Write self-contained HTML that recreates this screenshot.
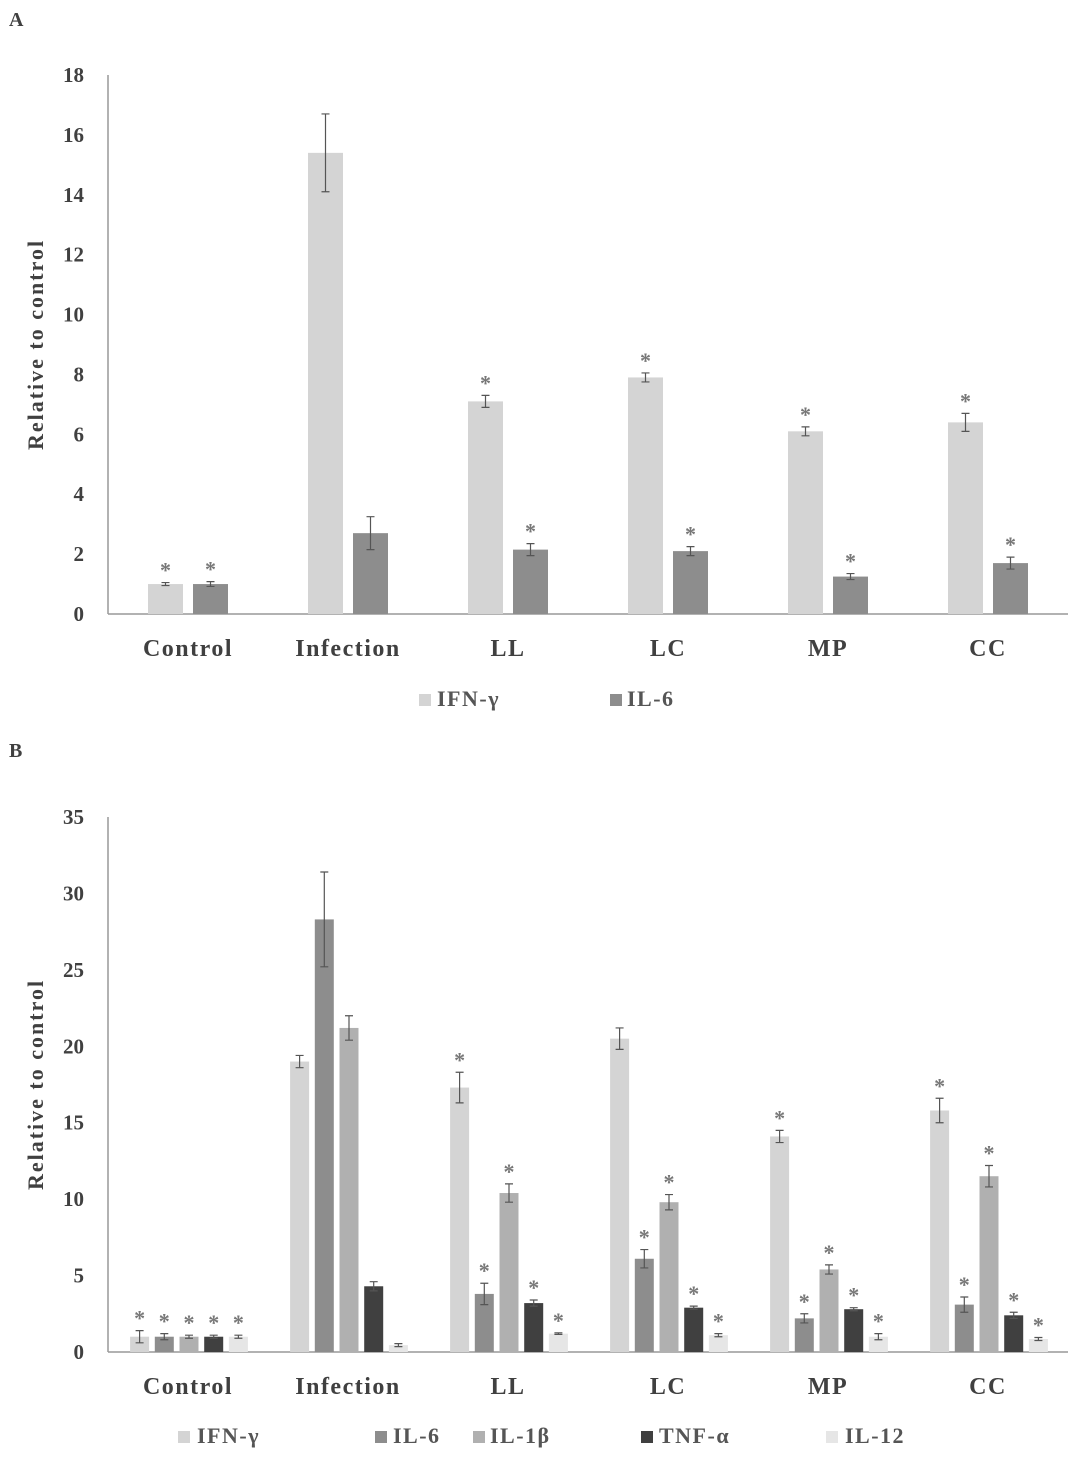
<!DOCTYPE html>
<html><head><meta charset="utf-8">
<style>
html,body{margin:0;padding:0;background:#fff;}
svg text{font-family:"Liberation Serif",serif;font-weight:bold;fill:#404040;}
</style></head>
<body>
<svg id="fig" width="1075" height="1466" xmlns="http://www.w3.org/2000/svg">
<text x="9" y="26" font-size="20">A</text>
<text x="9" y="757" font-size="20">B</text>
</svg>
<script>
const categories = ["Control","Infection","LL","LC","MP","CC"];
// Panel A
const aIFN = [1.0, 15.4, 7.1, 7.9, 6.1, 6.4];
const aIFNerr = [0.05, 1.3, 0.2, 0.15, 0.15, 0.3];
const aIL6 = [1.0, 2.7, 2.15, 2.1, 1.25, 1.7];
const aIL6err = [0.08, 0.55, 0.2, 0.15, 0.1, 0.2];
const aIFNstar = [1,0,1,1,1,1];
const aIL6star = [1,0,1,1,1,1];
const aTicks = [0,2,4,6,8,10,12,14,16,18];
// Panel B
const bIFN = [1.0, 19.0, 17.3, 20.5, 14.1, 15.8];
const bIFNerr = [0.4, 0.4, 1.0, 0.7, 0.4, 0.8];
const bIL6 = [1.0, 28.3, 3.8, 6.1, 2.2, 3.1];
const bIL6err = [0.2, 3.1, 0.7, 0.6, 0.3, 0.5];
const bIL1b = [1.0, 21.2, 10.4, 9.8, 5.4, 11.5];
const bIL1berr = [0.1, 0.8, 0.6, 0.5, 0.3, 0.7];
const bTNF = [1.0, 4.3, 3.2, 2.9, 2.8, 2.4];
const bTNFerr = [0.1, 0.3, 0.2, 0.1, 0.1, 0.2];
const bIL12 = [1.0, 0.45, 1.2, 1.1, 1.0, 0.85];
const bIL12err = [0.1, 0.1, 0.05, 0.1, 0.2, 0.1];
const bIFNstar = [1,0,1,0,1,1];
const bIL6star = [1,0,1,1,1,1];
const bIL1bstar = [1,0,1,1,1,1];
const bTNFstar = [1,0,1,1,1,1];
const bIL12star = [1,0,1,1,1,1];
const bTicks = [0,5,10,15,20,25,30,35];

const NS="http://www.w3.org/2000/svg";
const svg=document.getElementById('fig');
function mk(tag,attrs,parent){const e=document.createElementNS(NS,tag);for(const k in attrs)e.setAttribute(k,attrs[k]);(parent||svg).appendChild(e);return e;}

function panel(cfg){
  const g=mk('g',{});
  
  
  const y=v=>cfg.y0-(v/cfg.max)*(cfg.y0-cfg.yTop);
  const xc=i=>188+i*160;
  const ax=mk('line',{x1:108,y1:cfg.yTop,x2:108,y2:cfg.y0,stroke:'#999','stroke-width':1.5},g);
  
  
  const bx=mk('line',{x1:108,y1:cfg.y0,x2:1068,y2:cfg.y0,stroke:'#999','stroke-width':1.5},g);
  
  
  cfg.ticks.forEach(t=>{
    const tx=mk('text',{x:84,y:y(t)+7,'font-size':21,'text-anchor':'end'},g);
    tx.textContent=t;
    
    
  });
  const title=mk('text',{x:0,y:0,'font-size':22,'letter-spacing':2,'text-anchor':'middle',transform:`translate(43,${(cfg.yTop+cfg.y0)/2}) rotate(-90)`},g);
  title.textContent='Relative to control';
  
  
  categories.forEach((c,i)=>{
    const tx=mk('text',{x:xc(i),y:cfg.y0+42,'font-size':24,'letter-spacing':1.5,'text-anchor':'middle'},g);
    tx.textContent=c;
    
    
  });
  const n=cfg.series.length;
  cfg.series.forEach((s,si)=>{
    s.vals.forEach((v,i)=>{
      const cx=xc(i)+cfg.shift+(si-(n-1)/2)*cfg.step;
      const r=mk('rect',{x:cx-cfg.bw/2,y:y(v),width:cfg.bw,height:cfg.y0-y(v),fill:s.color},g);
      
      
      const e=s.err[i], yt=y(v+e), yb=y(v-e);
      const el=mk('path',{d:`M${cx},${yt}V${yb}M${cx-4},${yt}H${cx+4}M${cx-4},${yb}H${cx+4}`,stroke:'#555','stroke-width':1.2,fill:'none'},g);
      
      
      if(s.star[i]){
        const st=mk('text',{x:cx,y:yt-5,'font-size':22,'text-anchor':'middle',style:'fill:#777'},g);
        st.textContent='*';
        
        
      }
    });
  });
  cfg.legend.forEach((L,li)=>{
    const s=cfg.series[li];
    const sq=mk('rect',{x:L[0],y:cfg.ly-12,width:12,height:12,fill:s.color},g);
    
    
    const tx=mk('text',{x:L[1],y:cfg.ly,'font-size':22,'letter-spacing':1.5,style:'fill:#555'},g);
    tx.textContent=s.label;
    
    
  });
}
panel({name:'chart-a',yTop:75,y0:614,max:18,ticks:aTicks,bw:35,step:45,shift:0,ly:706,
  series:[{key:'ifn-gamma',label:'IFN-γ',color:'#d4d4d4',vals:aIFN,err:aIFNerr,star:aIFNstar},
          {key:'il-6',label:'IL-6',color:'#8d8d8d',vals:aIL6,err:aIL6err,star:aIL6star}],
  legend:[[419,437],[610,627]]});
panel({name:'chart-b',yTop:817,y0:1352,max:35,ticks:bTicks,bw:19,step:24.7,shift:1,ly:1443,
  series:[{key:'ifn-gamma',label:'IFN-γ',color:'#d4d4d4',vals:bIFN,err:bIFNerr,star:bIFNstar},
          {key:'il-6',label:'IL-6',color:'#8d8d8d',vals:bIL6,err:bIL6err,star:bIL6star},
          {key:'il-1b',label:'IL-1β',color:'#b0b0b0',vals:bIL1b,err:bIL1berr,star:bIL1bstar},
          {key:'tnf-alpha',label:'TNF-α',color:'#404040',vals:bTNF,err:bTNFerr,star:bTNFstar},
          {key:'il-12',label:'IL-12',color:'#e6e6e6',vals:bIL12,err:bIL12err,star:bIL12star}],
  legend:[[178,197],[375,393],[473,490],[641,659],[826,845]]});
</script>
</body></html>
